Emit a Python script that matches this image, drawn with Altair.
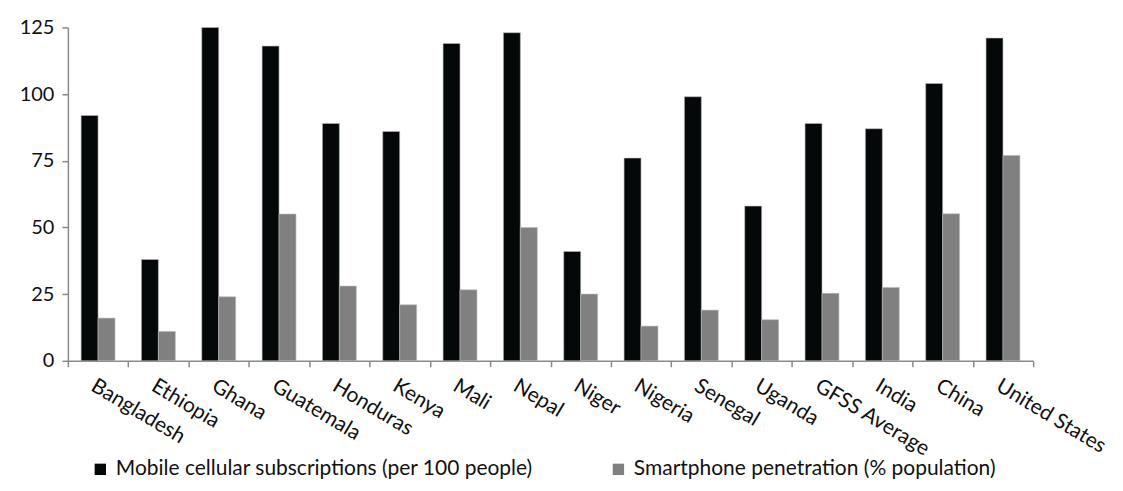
import altair as alt
import pandas as pd

categories = ["Bangladesh", "Ethiopia", "Ghana", "Guatemala", "Honduras", "Kenya",
              "Mali", "Nepal", "Niger", "Nigeria", "Senegal", "Uganda",
              "GFSS Average", "India", "China", "United States"]
mobile = [92, 38, 125, 118, 89, 86, 119, 123, 41, 76, 99, 58, 89, 87, 104, 121]
smartphone = [16, 11, 24, 55, 28, 21, 26.6, 50, 25, 13, 19, 15.4, 25.3, 27.5, 55.1, 77]
series = ["Mobile cellular subscriptions (per 100 people)",
          "Smartphone penetration (% population)"]
colors = ["#040808", "#808080"]
y_ticks = [0, 25, 50, 75, 100, 125]

rows = []
for c, m, s in zip(categories, mobile, smartphone):
    rows.append({"country": c, "series": series[0], "value": m})
    rows.append({"country": c, "series": series[1], "value": s})
df = pd.DataFrame(rows)

FONT = "Lato"

chart = alt.Chart(df).mark_bar(stroke="#b8b8b8", strokeWidth=0.6).encode(
    x=alt.X("country:N", sort=categories,
            scale=alt.Scale(paddingInner=0, paddingOuter=0),
            axis=alt.Axis(title=None, labelAngle=31, labelAlign="left", labelBaseline="top",
                          tickBand="extent", labelFontSize=21, labelFont=FONT,
                          labelPadding=8, tickSize=6, domainColor="#8a8a8a",
                          tickColor="#8a8a8a", labelColor="#111111", domainWidth=1.5,
                          tickWidth=1.5, labelLimit=300)),
    xOffset=alt.XOffset("series:N", sort=series,
                        scale=alt.Scale(paddingInner=0, paddingOuter=0.78)),
    y=alt.Y("value:Q", scale=alt.Scale(domain=[0, 125]),
            axis=alt.Axis(values=y_ticks, title=None, grid=False, labelFontSize=20,
                          labelFont=FONT, labelPadding=8, tickSize=6,
                          domainColor="#8a8a8a", tickColor="#8a8a8a",
                          labelColor="#111111", domainWidth=1.5, tickWidth=1.5)),
    color=alt.Color("series:N", sort=series,
                    scale=alt.Scale(domain=series, range=colors),
                    legend=alt.Legend(title=None, orient="none", direction="horizontal",
                                      legendX=22, legendY=432, symbolType="square",
                                      symbolSize=130, symbolStrokeWidth=0,
                                      labelFontSize=21, labelFont=FONT,
                                      labelColor="#111111", labelLimit=600,
                                      columnPadding=74, labelOffset=5)),
).properties(
    width=967, height=334,
    padding={"left": 11, "top": 9, "right": 5, "bottom": 5},
).configure_view(stroke=None)

chart.save("out.html", embed_options={"renderer": "svg", "actions": False})
